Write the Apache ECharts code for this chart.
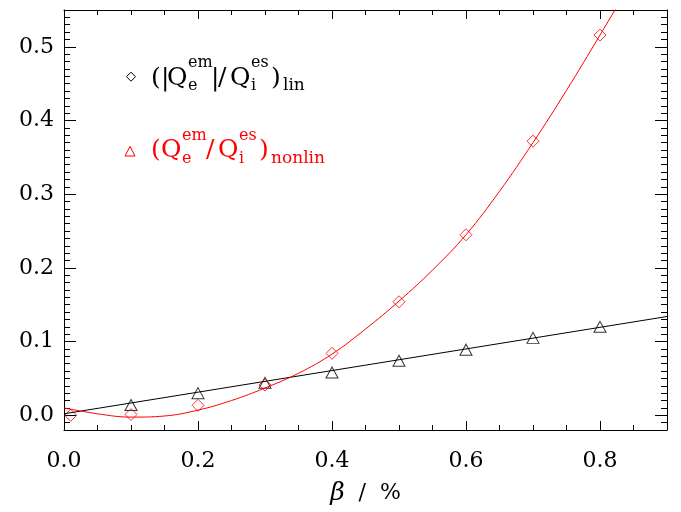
<!DOCTYPE html>
<html>
<head>
<meta charset="utf-8">
<script src="https://cdn.jsdelivr.net/npm/echarts@6/dist/echarts.min.js"></script>
<style>
html,body{margin:0;padding:0;background:#fff;}
#chart{width:681px;height:512px;}
</style>
</head>
<body>
<div id="chart"></div>
<script>
// ---- data ----
var linBeta = [0.1, 0.2, 0.3, 0.4, 0.5, 0.6, 0.7, 0.8];
var linRatio = [0.014, 0.030, 0.044, 0.058, 0.074, 0.089, 0.105, 0.120];

var nonlinBeta = [0.01, 0.1, 0.2, 0.3, 0.4, 0.5, 0.6, 0.7, 0.8];
var nonlinRatio = [0.000, 0.001, 0.0135, 0.041, 0.084, 0.154, 0.245, 0.372, 0.516];

var linFitBeta = [0.0, 0.9];
var linFitRatio = [0.002, 0.134];

var nonlinFitBeta = [0.0, 0.05, 0.1, 0.15, 0.2, 0.25, 0.3, 0.35, 0.4, 0.45, 0.5, 0.55, 0.6, 0.65, 0.7, 0.75, 0.8, 0.83];
var nonlinFitRatio = [0.010, 0.002, -0.0025, -0.001, 0.007, 0.020, 0.037, 0.057, 0.083, 0.117, 0.155, 0.197, 0.245, 0.304, 0.370, 0.441, 0.516, 0.562];

var xTickLabels = ['0.0', '0.2', '0.4', '0.6', '0.8'];
var yTickLabels = ['0.0', '0.1', '0.2', '0.3', '0.4', '0.5'];

function zip(a, b) { return a.map(function (v, i) { return [v, b[i]]; }); }

var FONT = 'DejaVu Serif';

function fmtX(v) {
  if (Math.abs(v * 5 - Math.round(v * 5)) > 1e-6) return '';
  var s = (Math.round(v * 10) / 10).toFixed(1);
  return xTickLabels.indexOf(s) >= 0 ? s : '';
}
function fmtY(v) {
  if (Math.abs(v * 10 - Math.round(v * 10)) > 1e-6) return '';
  var s = (Math.round(v * 10) / 10).toFixed(1);
  if (s === '-0.0') s = '0.0';
  return yTickLabels.indexOf(s) >= 0 ? s : '';
}

function xAxisCfg(pos, showLabel) {
  return {
    type: 'value', position: pos, min: 0, max: 0.9,
    minInterval: 0.2, maxInterval: 0.2, splitNumber: 5,
    axisLine: { show: true, onZero: false, lineStyle: { color: '#000', width: 1 } },
    axisTick: { show: true, inside: true, length: 9, lineStyle: { color: '#000', width: 1 } },
    minorTick: { show: true, splitNumber: 4, length: 5, lineStyle: { color: '#000', width: 1 } },
    splitLine: { show: false },
    axisLabel: { show: showLabel, formatter: fmtX, color: '#000', fontFamily: FONT, fontSize: 22, margin: 20 },
    name: showLabel ? '{b|\u03b2}{n|  /  %}' : '',
    nameLocation: 'middle', nameGap: 51,
    nameTextStyle: { rich: {
      b: { fontFamily: FONT, fontStyle: 'italic', fontSize: 25, color: '#000' },
      n: { fontFamily: FONT, fontSize: 22, color: '#000' }
    } }
  };
}
function yAxisCfg(pos, showLabel) {
  return {
    type: 'value', position: pos, min: -0.02, max: 0.55,
    minInterval: 0.1, maxInterval: 0.1, splitNumber: 5,
    axisLine: { show: true, onZero: false, lineStyle: { color: '#000', width: 1 } },
    axisTick: { show: true, inside: true, length: 12, lineStyle: { color: '#000', width: 1 } },
    minorTick: { show: true, splitNumber: 10, length: 6, lineStyle: { color: '#000', width: 1 } },
    splitLine: { show: false },
    axisLabel: { show: showLabel, formatter: fmtY, color: '#000', fontFamily: FONT, fontSize: 22, margin: 10 }
  };
}

// legend pieces (text kept as real text)
function t(text, x, baseline, size, color) {
  return { type: 'text', x: x, y: baseline - 0.35 * size, silent: true,
    style: { text: text, fill: color, fontFamily: FONT, fontSize: size, align: 'left', verticalAlign: 'middle' } };
}
function legendRow(b, color, abs, sub) {
  var sup = b - 18.5, subB = b + 4.8;
  var els = [];
  var x0 = 151;
  els.push(t('(', x0, b, 25, color));
  var x = x0 + 10;
  if (abs) { els.push(t('|', x, b, 25, color)); x += 6; }
  els.push(t('Q', x, b, 25, color)); x += 21;
  els.push(t('em', x, sup, 16, color));
  els.push(t('e', x, subB, 16, color));
  x += 23;
  if (abs) { els.push(t('|', x, b, 25, color)); x += 7; } else { x += 1; }
  els.push(t('/', x, b, 25, color)); x += 12;
  els.push(t('Q', x, b, 25, color)); x += 21;
  els.push(t('es', x, sup, 16, color));
  els.push(t('i', x, subB, 16, color));
  x += 20;
  els.push(t(')', x, b, 25, color)); x += 12;
  els.push(t(sub, x, subB, 17, color));
  return els;
}

var graphicEls = [];
graphicEls.push({ type: 'polygon', silent: true,
  shape: { points: [[131, 72.2], [135.5, 76.7], [131, 81.2], [126.5, 76.7]] },
  style: { fill: 'none', stroke: '#000', lineWidth: 1 } });
graphicEls.push({ type: 'polygon', silent: true,
  shape: { points: [[130, 146.5], [135, 156], [125, 156]] },
  style: { fill: 'none', stroke: '#ff0000', lineWidth: 1 } });
graphicEls = graphicEls.concat(legendRow(87, '#000', true, 'lin'));
graphicEls = graphicEls.concat(legendRow(159.5, '#ff0000', false, 'nonlin'));

var chart = echarts.init(document.getElementById('chart'), null, { renderer: 'canvas' });
chart.setOption({
  animation: false,
  backgroundColor: '#fff',
  grid: { left: 64, right: 14, top: 10, bottom: 82, containLabel: false },
  xAxis: [xAxisCfg('bottom', true), xAxisCfg('top', false)],
  yAxis: [yAxisCfg('left', true), yAxisCfg('right', false)],
  graphic: { elements: graphicEls },
  series: [
    { name: 'lin fit', type: 'line', xAxisIndex: 0, yAxisIndex: 0, data: zip(linFitBeta, linFitRatio),
      showSymbol: false, lineStyle: { color: '#000', width: 1 }, itemStyle: { color: '#000' } },
    { name: 'nonlin fit', type: 'line', xAxisIndex: 0, yAxisIndex: 0, data: zip(nonlinFitBeta, nonlinFitRatio),
      showSymbol: false, smooth: 0.4, clip: true,
      lineStyle: { color: '#ff0000', width: 1 }, itemStyle: { color: '#ff0000' } },
    { name: 'lin', type: 'scatter', xAxisIndex: 0, yAxisIndex: 0, data: zip(linBeta, linRatio),
      symbol: 'triangle', symbolSize: [12, 11],
      itemStyle: { color: 'rgba(0,0,0,0)', borderColor: '#000', borderWidth: 1 } },
    { name: 'nonlin', type: 'scatter', xAxisIndex: 0, yAxisIndex: 0, data: zip(nonlinBeta, nonlinRatio),
      symbol: 'diamond', symbolSize: [12, 12],
      itemStyle: { color: 'rgba(0,0,0,0)', borderColor: '#ff0000', borderWidth: 1 } }
  ]
});
</script>
</body>
</html>
